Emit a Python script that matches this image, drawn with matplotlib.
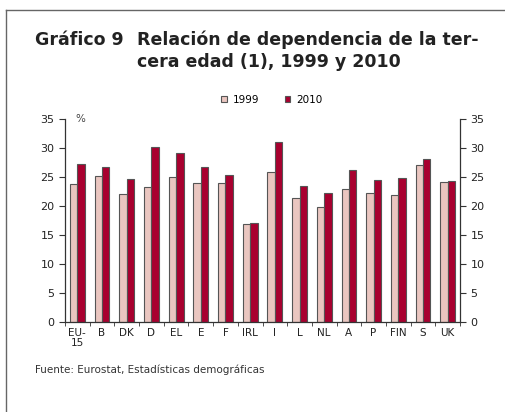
import numpy as np
import matplotlib.pyplot as plt
from matplotlib.lines import Line2D

countries = ['EU-\n15', 'B', 'DK', 'D', 'EL', 'E', 'F', 'IRL', 'I', 'L',
             'NL', 'A', 'P', 'FIN', 'S', 'UK']
v1999 = [23.8, 25.2, 22.1, 23.2, 25.0, 24.0, 24.0, 16.9, 25.9, 21.3,
         19.8, 22.9, 22.3, 21.9, 27.1, 24.1]
v2010 = [27.3, 26.7, 24.6, 30.1, 29.2, 26.7, 25.3, 17.1, 31.1, 23.4,
         22.3, 26.2, 24.4, 24.8, 28.1, 24.3]

c1999 = '#EAC6C0'
c2010 = '#A8002F'
edge = '#555555'

fig = plt.figure(figsize=(5.05, 4.12), dpi=100)
ax = fig.add_axes([65 / 505, 1 - 322 / 412, 395 / 505, 203 / 412])

x = np.arange(len(countries))
w = 0.3
ax.bar(x - w / 2, v1999, w, color=c1999, edgecolor=edge, linewidth=0.8, label='1999')
ax.bar(x + w / 2, v2010, w, color=c2010, edgecolor=edge, linewidth=0.8, label='2010')

ax.set_xlim(-0.5, len(countries) - 0.5)
ax.set_ylim(0, 35)
ax.set_yticks(range(0, 36, 5))
ax.set_xticks(x)
ax.set_xticklabels(countries, fontsize=7.5, color='#222222', linespacing=1.0)
ax.set_xticks(np.arange(-0.5, len(countries), 1), minor=True)
ax.tick_params(axis='x', which='major', length=0, pad=4)
ax.tick_params(axis='x', which='minor', length=3, direction='out', color='#333333')
ax.tick_params(axis='y', which='major', length=4, direction='out', labelsize=8,
               left=True, right=True, labelleft=True, labelright=True,
               color='#333333', labelcolor='#222222')
ax.spines['top'].set_visible(False)
for s in ['left', 'right', 'bottom']:
    ax.spines[s].set_color('#333333')
    ax.spines[s].set_linewidth(0.9)

ax.text(0.025, 1.0, '%', transform=ax.transAxes, fontsize=7.5, color='#444444',
        ha='left', va='center')

leg = fig.legend(loc='center', bbox_to_anchor=(272 / 505, 1 - 100 / 412), ncol=2,
                 frameon=False, fontsize=7.5, handlelength=0.55, handleheight=0.55,
                 columnspacing=2.4, handletextpad=0.6)

fig.text(35 / 505, 1 - 40 / 412, 'Gráfico 9', fontsize=12.5, fontweight='bold',
         color='#222222', va='center', ha='left')
fig.text(137 / 505, 1 - 40 / 412, 'Relación de dependencia de la ter-', fontsize=12.5,
         fontweight='bold', color='#222222', va='center', ha='left')
fig.text(137 / 505, 1 - 62 / 412, 'cera edad (1), 1999 y 2010', fontsize=12.5,
         fontweight='bold', color='#222222', va='center', ha='left')

fig.text(35 / 505, 1 - 370 / 412, 'Fuente: Eurostat, Estadísticas demográficas',
         fontsize=7.5, color='#333333', va='center', ha='left')

fig.add_artist(Line2D([6 / 505, 1], [1 - 10 / 412, 1 - 10 / 412],
                      transform=fig.transFigure, color='#666666', lw=1))
fig.add_artist(Line2D([6 / 505, 6 / 505], [0, 1 - 10 / 412],
                      transform=fig.transFigure, color='#666666', lw=1))

fig.savefig('out.png', dpi=100)
